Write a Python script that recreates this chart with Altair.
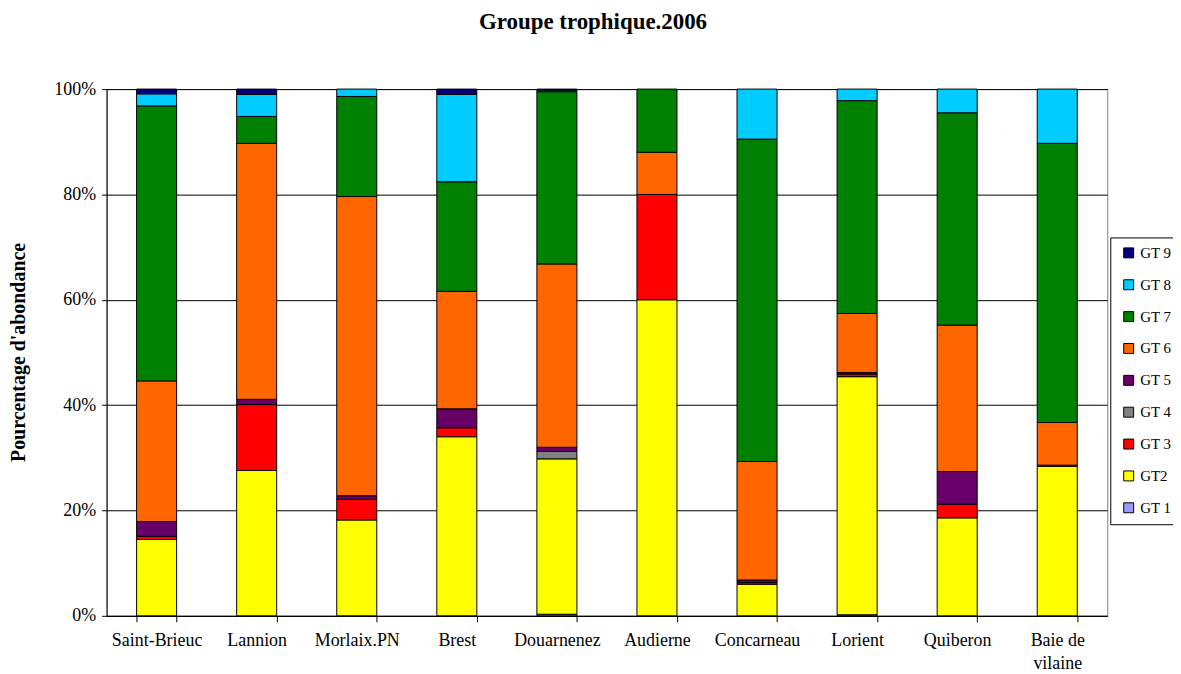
import altair as alt
import pandas as pd

categories = ["Saint-Brieuc", "Lannion", "Morlaix.PN", "Brest", "Douarnenez",
              "Audierne", "Concarneau", "Lorient", "Quiberon", "Baie de vilaine"]

series_names = ["GT 1", "GT2", "GT 3", "GT 4", "GT 5", "GT 6", "GT 7", "GT 8", "GT 9"]
series_colors = ["#9999FF", "#FFFF00", "#FF0000", "#808080", "#660066",
                 "#FF6600", "#008000", "#00CCFF", "#000080"]

gt1 = [0, 0, 0, 0, 0.3, 0, 0, 0.2, 0, 0]
gt2 = [14.5, 27.6, 18.2, 34.0, 29.5, 60.0, 6.0, 45.2, 18.6, 28.4]
gt3 = [0.6, 12.5, 3.9, 1.7, 0, 20.0, 0.3, 0.5, 2.6, 0]
gt4 = [0, 0, 0, 0, 1.4, 0, 0, 0, 0, 0]
gt5 = [2.8, 1.0, 0.7, 3.6, 0.8, 0, 0.5, 0.3, 6.2, 0.2]
gt6 = [26.7, 48.6, 56.8, 22.3, 34.8, 8.0, 22.5, 11.2, 27.8, 8.1]
gt7 = [52.2, 5.1, 19.0, 20.8, 32.7, 12.0, 61.2, 40.4, 40.3, 53.0]
gt8 = [2.3, 4.2, 1.4, 16.6, 0.3, 0, 9.5, 2.2, 4.5, 10.3]
gt9 = [0.9, 1.0, 0, 1.0, 0.2, 0, 0, 0, 0, 0]

y_ticks = [0, 0.2, 0.4, 0.6, 0.8, 1.0]

all_series = [gt1, gt2, gt3, gt4, gt5, gt6, gt7, gt8, gt9]
rows = []
for k, (name, vals) in enumerate(zip(series_names, all_series)):
    for site, v in zip(categories, vals):
        if v > 0:
            rows.append({"site": site, "grp": name, "v": v / 100.0, "k": k})
df = pd.DataFrame(rows)

legend_domain = series_names[::-1]
legend_range = series_colors[::-1]

FONT = "Liberation Serif"

chart = alt.Chart(df).mark_bar(stroke="black", strokeWidth=1).encode(
    x=alt.X("site:N", sort=categories, title=None,
            scale=alt.Scale(paddingInner=0.6, paddingOuter=0.3),
            axis=alt.Axis(labelAngle=0, tickBand="extent", labelFont=FONT,
                          labelFontSize=18, labelColor="black",
                          domainColor="black", tickColor="black", tickSize=6,
                          labelPadding=10, grid=False, labelLineHeight=23,
                          labelExpr="datum.label == 'Baie de vilaine' ? ['Baie de', 'vilaine'] : datum.label")),
    y=alt.Y("v:Q", stack="zero",
            scale=alt.Scale(domain=[0, 1], nice=False),
            title="Pourcentage d'abondance",
            axis=alt.Axis(format=".0%", values=y_ticks, labelFont=FONT,
                          labelFontSize=18, labelColor="black",
                          domainColor="black", tickColor="black", tickSize=5,
                          labelPadding=6, gridColor="black", gridWidth=1,
                          titleFont=FONT, titleFontSize=20, titleFontWeight="bold",
                          titleColor="black", titleX=-88, titleY=264,
                          titleBaseline="middle", titleAlign="center")),
    color=alt.Color("grp:N",
                    scale=alt.Scale(domain=legend_domain, range=legend_range),
                    legend=alt.Legend(title=None, orient="none", legendX=1008,
                                      legendY=149, strokeColor="black",
                                      fillColor="white", padding=8,
                                      symbolType="square", symbolSize=100,
                                      symbolStrokeColor="black",
                                      symbolStrokeWidth=1, symbolOffset=3,
                                      labelFont=FONT, labelFontSize=15,
                                      labelColor="black", rowPadding=16,
                                      labelOffset=4)),
    order=alt.Order("k:Q", sort="ascending"),
).properties(
    width=1005,
    height=529,
    padding={"left": 99, "top": 80, "right": 66, "bottom": 57},
    autosize=alt.AutoSizeParams(type="none"),
    title=alt.TitleParams("Groupe trophique.2006", font=FONT, fontSize=23,
                          fontWeight="bold", color="black", anchor="middle",
                          offset=46, dx=-14),
).configure_view(stroke="#808080", strokeWidth=1)

chart.save("out.html", embed_options={"renderer": "svg", "actions": False})
